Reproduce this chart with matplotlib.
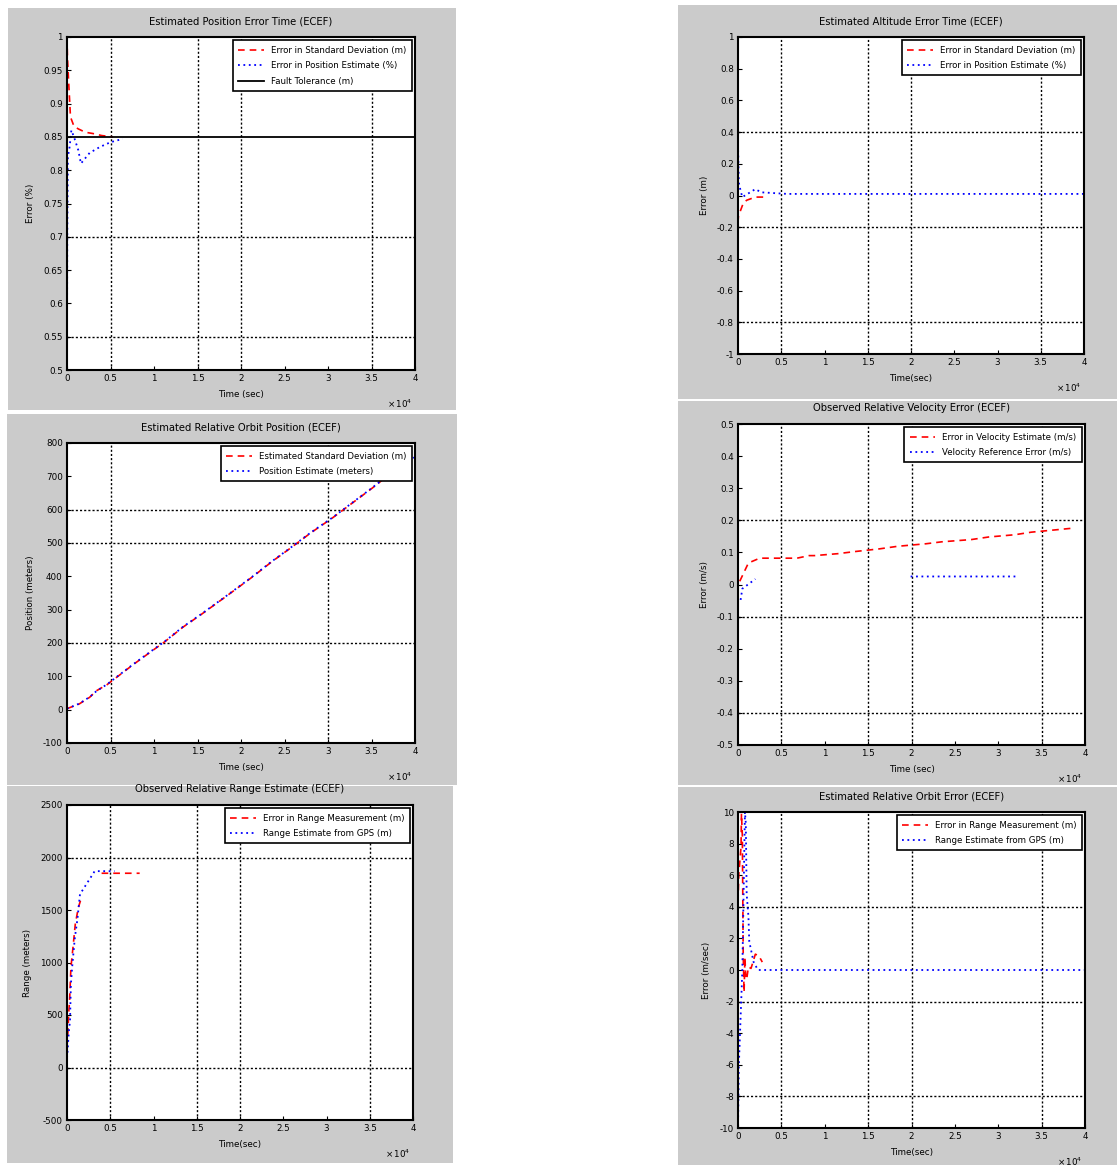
import matplotlib
matplotlib.use("Agg")
import matplotlib.pyplot as plt
from matplotlib.patches import Rectangle
import numpy as np

plt.rcParams['font.family'] = ['DejaVu Sans']
plt.rcParams['font.size'] = 6

# ---------------- data ----------------
# time axis in seconds (shown as x 10^4)
x_ticks = [0, 5000, 10000, 15000, 20000, 25000, 30000, 35000, 40000]
x_tick_labels = ['0', '0.5', '1', '1.5', '2', '2.5', '3', '3.5', '4']
x_grid = [5000, 15000, 20000, 35000]

# Panel 1 (top left)
p1_title = 'Estimated Position Error Time (ECEF)'
p1_ylabel = 'Error (%)'
p1_legend = ['Error in Standard Deviation (m)', 'Error in Position Estimate (%)', 'Fault Tolerance (m)']
p1_red_t = [0, 50, 200, 400, 800, 1300, 2100, 3000, 4000, 5300]
p1_red_v = [1.0, 0.97, 0.93, 0.88, 0.866, 0.862, 0.857, 0.855, 0.852, 0.850]
p1_blue_t = [0, 30, 100, 300, 500, 800, 1300, 1600, 2600, 3800, 5000, 6400]
p1_blue_v = [0.54, 0.70, 0.82, 0.835, 0.86, 0.85, 0.83, 0.81, 0.826, 0.835, 0.842, 0.847]
p1_ref_t = [0, 40000]
p1_ref_v = [0.85, 0.85]
p1_yticks = [0.5, 0.55, 0.6, 0.65, 0.7, 0.75, 0.8, 0.85, 0.9, 0.95, 1.0]
p1_ytick_labels = ['0.5', '0.55', '0.6', '0.65', '0.7', '0.75', '0.8', '0.85', '0.9', '0.95', '1']
p1_ygrid = [0.55, 0.7]

# Panel 2 (middle left)
p2_title = 'Estimated Relative Orbit Position (ECEF)'
p2_ylabel = 'Position (meters)'
p2_legend = ['Estimated Standard Deviation (m)', 'Position Estimate (meters)']
p2_t = [0, 1400, 2600, 3400, 4600, 6000, 7600, 9700, 11200, 13300, 15500,
        18300, 21300, 23600, 25600, 28000, 30500, 32800, 35100, 36200, 40000]
p2_red_v = [3, 17, 37, 57, 75, 103, 135, 175, 203, 247, 287,
            340, 398, 445, 483, 530, 575, 620, 665, 688, 760]
p2_blue_v = [3, 18, 38, 56, 76, 104, 136, 176, 204, 248, 288,
             341, 399, 446, 484, 531, 576, 621, 666, 689, 758]
p2_yticks = [-100, 0, 100, 200, 300, 400, 500, 600, 700, 800]
p2_ytick_labels = ['-100', '0', '100', '200', '300', '400', '500', '600', '700', '800']
p2_xgrid = [5000, 30000]
p2_ygrid = [200, 500, 600]

# Panel 3 (bottom left)
p3_title = 'Observed Relative Range Estimate (ECEF)'
p3_ylabel = 'Range (meters)'
p3_legend = ['Error in Range Measurement (m)', 'Range Estimate from GPS (m)']
p3_red_t = [0, 100, 200, 300, 450, 700, 950, 1300, 1600, 2500, 4000, 4500, 8400]
p3_red_v = [200, 330, 520, 640, 950, 1150, 1360, 1520, 1600, np.nan, 1850, 1850, 1850]
p3_blue_t = [0, 50, 200, 350, 450, 600, 900, 1200, 1500, 3200, 5000, 5500]
p3_blue_v = [90, 135, 330, 450, 790, 960, 1230, 1410, 1650, 1870, 1870, 1870]
p3_yticks = [-500, 0, 500, 1000, 1500, 2000, 2500]
p3_ytick_labels = ['-500', '0', '500', '1000', '1500', '2000', '2500']
p3_ygrid = [0, 2000]

# Panel 4 (top right)
p4_title = 'Estimated Altitude Error Time (ECEF)'
p4_ylabel = 'Error (m)'
p4_legend = ['Error in Standard Deviation (m)', 'Error in Position Estimate (%)']
p4_red_t = [0, 50, 600, 1000, 2000, 3300]
p4_red_v = [-0.17, -0.13, -0.05, -0.03, -0.01, -0.01]
p4_blue_t = [0, 50, 100, 300, 500, 2000, 2700, 5700, 40000]
p4_blue_v = [0.32, 0.20, 0.08, 0.03, -0.01, 0.04, 0.02, 0.01, 0.01]
p4_yticks = [-1, -0.8, -0.6, -0.4, -0.2, 0, 0.2, 0.4, 0.6, 0.8, 1]
p4_ytick_labels = ['-1', '-0.8', '-0.6', '-0.4', '-0.2', '0', '0.2', '0.4', '0.6', '0.8', '1']
p4_ygrid = [-0.8, -0.2, 0.4]

# Panel 5 (middle right)
p5_title = 'Observed Relative Velocity Error (ECEF)'
p5_ylabel = 'Error (m/s)'
p5_legend = ['Error in Velocity Estimate (m/s)', 'Velocity Reference Error (m/s)']
p5_red_t = [200, 1200, 2500, 5900, 6800, 8200, 8800, 11500, 13600, 16300,
            18400, 21700, 23500, 26900, 28900, 31900, 33800, 36900, 38800]
p5_red_v = [0.01, 0.067, 0.082, 0.082, 0.082, 0.09, 0.09, 0.096, 0.103, 0.111,
            0.119, 0.127, 0.133, 0.14, 0.148, 0.155, 0.163, 0.171, 0.176]
p5_blue_t = [300, 500, 2000, 5000, 19900, 32100]
p5_blue_v = [-0.048, -0.013, 0.017, np.nan, 0.025, 0.025]
p5_yticks = [-0.5, -0.4, -0.3, -0.2, -0.1, 0, 0.1, 0.2, 0.3, 0.4, 0.5]
p5_ytick_labels = ['-0.5', '-0.4', '-0.3', '-0.2', '-0.1', '0', '0.1', '0.2', '0.3', '0.4', '0.5']
p5_ygrid = [-0.4, -0.1, 0.2]

# Panel 6 (bottom right)
p6_title = 'Estimated Relative Orbit Error (ECEF)'
p6_ylabel = 'Error (m/sec)'
p6_legend = ['Error in Range Measurement (m)', 'Range Estimate from GPS (m)']
p6_red_t = [0, 100, 350, 400, 500, 600, 700, 800, 900, 1000, 1200, 1500, 2000, 2400, 2800]
p6_red_v = [4.3, 6.1, 7.8, 9.9, 8.5, 1.0, -1.4, 0.8, -0.5, -0.6, 0.2, 0.1, 1.0, 0.9, 0.5]
p6_blue_t = [0, 50, 100, 200, 500, 800, 900, 1000, 1200, 1300, 1800, 2300, 3000, 40000]
p6_blue_v = [-10, -8, -6, -4.5, 0, 10, 9.3, 4.8, 3.4, 1.8, 0.5, 0, 0, 0]
p6_yticks = [-10, -8, -6, -4, -2, 0, 2, 4, 6, 8, 10]
p6_ytick_labels = ['-10', '-8', '-6', '-4', '-2', '0', '2', '4', '6', '8', '10']
p6_ygrid = [-8, -2, 4]

# ---------------- figure ----------------
W, H = 1119, 1166
fig = plt.figure(figsize=(W / 100, H / 100), dpi=100)
fig.patch.set_facecolor('white')

gray = '#cbcbcb'
boxes = [(8, 8, 456, 410), (7, 414, 457, 785), (7, 786, 453, 1163),
         (678, 5, 1117, 399), (678, 401, 1117, 785), (678, 787, 1117, 1165)]
for (x0, y0, x1, y1) in boxes:
    fig.patches.append(Rectangle((x0 / W, 1 - y1 / H), (x1 - x0) / W, (y1 - y0) / H,
                                 transform=fig.transFigure, facecolor=gray,
                                 edgecolor='none', zorder=-10))


def make_axes(px):
    x0, y0, x1, y1 = px
    return fig.add_axes([x0 / W, 1 - y1 / H, (x1 - x0) / W, (y1 - y0) / H])


def style(ax, title, ylabel, xlabel, yticks, ylabels, xgrid, ygrid):
    ax.xaxis.remove_overlapping_locs = False
    ax.yaxis.remove_overlapping_locs = False
    ax.set_xlim(0, 40000)
    ax.set_ylim(yticks[0], yticks[-1])
    ax.set_xticks(x_ticks, x_tick_labels)
    ax.set_yticks(yticks, ylabels)
    ax.set_xticks(xgrid, minor=True)
    ax.set_yticks(ygrid, minor=True)
    ax.tick_params(which='minor', length=0)
    ax.tick_params(which='major', direction='in', length=3, width=0.8, labelsize=6.3, pad=3)
    ax.xaxis.grid(True, which='minor', color='black', linestyle=(0, (1.5, 1.5)), linewidth=1.0)
    ax.yaxis.grid(True, which='minor', color='black', linestyle=(0, (1.5, 1.5)), linewidth=1.0)
    for s in ax.spines.values():
        s.set_linewidth(1.5)
    ax.set_title(title, fontsize=7.2, pad=9)
    ax.set_ylabel(ylabel, fontsize=6.3, labelpad=6)
    ax.set_xlabel(xlabel, fontsize=6.3, labelpad=5)
    ax.annotate(r'$\times\,10^4$', xy=(1, 0), xycoords='axes fraction',
                xytext=(-2, -24), textcoords='offset points', ha='right', va='center',
                fontsize=6.3)


def add_legend(ax, handles, labels):
    leg = ax.legend(handles, labels, loc='upper right', fontsize=6.2, frameon=True,
                    fancybox=False, edgecolor='black', framealpha=1,
                    borderaxespad=0.4, handlelength=3.0, labelspacing=0.75,
                    borderpad=0.6)
    leg.get_frame().set_linewidth(1.2)


red_kw = dict(color='red', linestyle=(0, (4, 3)), linewidth=1.2)
blue_kw = dict(color='blue', linestyle=(0, (1, 2)), linewidth=1.3)

# Panel 1
ax = make_axes((67, 37, 415, 370))
h1, = ax.plot(p1_red_t, p1_red_v, **red_kw)
h2, = ax.plot(p1_blue_t, p1_blue_v, **blue_kw)
h3, = ax.plot(p1_ref_t, p1_ref_v, color='black', linewidth=1.3)
style(ax, p1_title, p1_ylabel, 'Time (sec)', p1_yticks, p1_ytick_labels, x_grid, p1_ygrid)
add_legend(ax, [h1, h2, h3], p1_legend)

# Panel 2
ax = make_axes((67, 443, 415, 743))
h1, = ax.plot(p2_t, p2_red_v, **red_kw)
h2, = ax.plot(p2_t, p2_blue_v, **blue_kw)
style(ax, p2_title, p2_ylabel, 'Time (sec)', p2_yticks, p2_ytick_labels, p2_xgrid, p2_ygrid)
add_legend(ax, [h1, h2], p2_legend)

# Panel 3
ax = make_axes((67, 805, 413, 1120))
h1, = ax.plot(p3_red_t, p3_red_v, **red_kw)
h2, = ax.plot(p3_blue_t, p3_blue_v, **blue_kw)
style(ax, p3_title, p3_ylabel, 'Time(sec)', p3_yticks, p3_ytick_labels, x_grid, p3_ygrid)
add_legend(ax, [h1, h2], p3_legend)

# Panel 4
ax = make_axes((738, 37, 1084, 354))
h1, = ax.plot(p4_red_t, p4_red_v, **red_kw)
h2, = ax.plot(p4_blue_t, p4_blue_v, **blue_kw)
style(ax, p4_title, p4_ylabel, 'Time(sec)', p4_yticks, p4_ytick_labels, x_grid, p4_ygrid)
add_legend(ax, [h1, h2], p4_legend)

# Panel 5
ax = make_axes((738, 424, 1085, 745))
h1, = ax.plot(p5_red_t, p5_red_v, **red_kw)
h2, = ax.plot(p5_blue_t, p5_blue_v, **blue_kw)
style(ax, p5_title, p5_ylabel, 'Time (sec)', p5_yticks, p5_ytick_labels, x_grid, p5_ygrid)
add_legend(ax, [h1, h2], p5_legend)

# Panel 6
ax = make_axes((738, 812, 1085, 1128))
h1, = ax.plot(p6_red_t, p6_red_v, **red_kw)
h2, = ax.plot(p6_blue_t, p6_blue_v, **blue_kw)
style(ax, p6_title, p6_ylabel, 'Time(sec)', p6_yticks, p6_ytick_labels, x_grid, p6_ygrid)
add_legend(ax, [h1, h2], p6_legend)

fig.savefig('out.png', dpi=100, facecolor='white')
